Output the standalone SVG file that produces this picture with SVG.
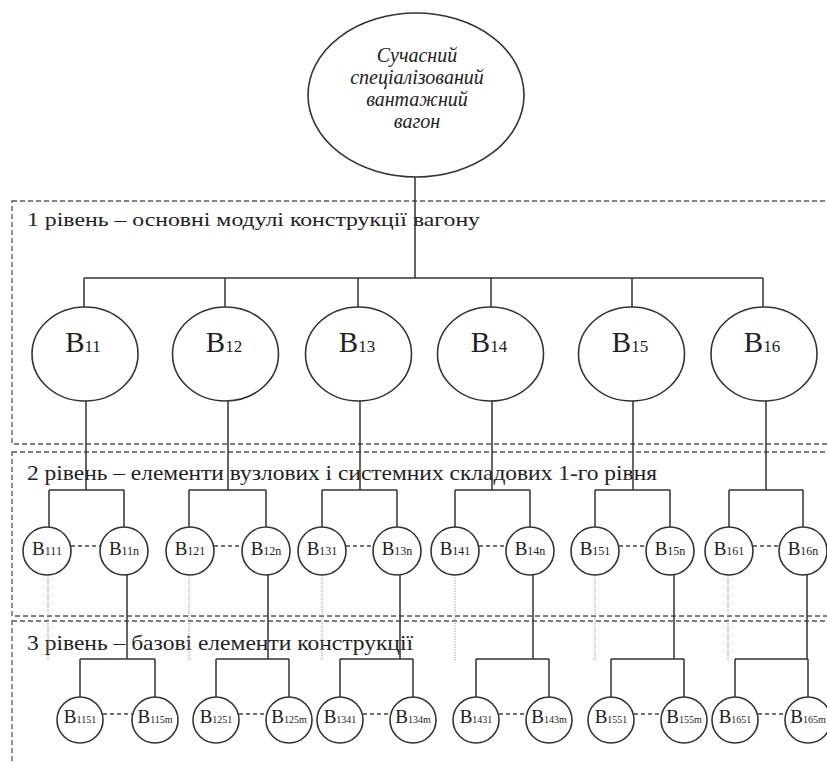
<svg xmlns="http://www.w3.org/2000/svg" width="827" height="762" viewBox="0 0 827 762" font-family="'Liberation Serif', 'Times New Roman', 'DejaVu Serif', serif">
<style>
  .bg{fill:#ffffff}
  .box{fill:none;stroke:#555;stroke-width:1.3;stroke-dasharray:5 3}
  .ln{fill:none;stroke:#333;stroke-width:1.5}
  .dl{fill:none;stroke:#444;stroke-width:1.3;stroke-dasharray:4 3}
  .dot{fill:none;stroke:#999;stroke-width:1;stroke-dasharray:1 1}
  .nd{fill:#fff;stroke:#333;stroke-width:1.6}
  text{font-family:'Liberation Serif','Times New Roman','DejaVu Serif',serif;fill:#222}
  .it{font-style:italic}
  .lv{font-size:21px}
  .b1{font-size:29px}
  .s1{font-size:17px}
  .b2{font-size:19px}
  .s2{font-size:12px}
  .b3{font-size:19px}
  .s3{font-size:10px}
</style>
<rect class="bg" x="0" y="0" width="827" height="762"/>

<g id="levels">
  <rect class="box" x="12" y="201" width="830" height="243"/>
  <rect class="box" x="12" y="452" width="830" height="164"/>
  <rect class="box" x="12" y="621" width="830" height="160"/>
  <text x="27" y="226" font-size="19" textLength="453" lengthAdjust="spacingAndGlyphs">1 рівень –  основні модулі конструкції вагону</text>
  <text class="lv" x="27" y="480" textLength="630" lengthAdjust="spacingAndGlyphs">2 рівень – елементи вузлових і системних складових 1-го рівня</text>
  <text class="lv" x="27" y="650" textLength="386" lengthAdjust="spacingAndGlyphs">3 рівень – базові елементи конструкції</text>
</g>

<g id="connectors">
  <path class="ln" d="M415 177V278M84 278H763M84 278V307M225 278V307M358 278V307M491 278V307M632 278V307M763 278V307"/>
  <path class="ln" d="M86 401V490M49 490H124M49 490V527M124 490V527"/>
  <path class="ln" d="M228 401V490M189 490H266M189 490V527M266 490V527"/>
  <path class="ln" d="M360 401V490M322 490H397M322 490V527M397 490V527"/>
  <path class="ln" d="M492 401V490M455 490H530M455 490V527M530 490V527"/>
  <path class="ln" d="M633 401V490M595 490H670M595 490V527M670 490V527"/>
  <path class="ln" d="M766 401V490M729 490H803M729 490V527M803 490V527"/>
  <path class="dl" d="M71 546H100M214 546H242M346 546H373M479 546H506M619 546H646M753 546H779"/>
  <path class="dot" d="M48 575V660M189 575V660M322 575V660M455 575V660M595 575V660M728 575V660"/>
  <path class="ln" d="M127 575V659M80 659H155M80 659V697M155 659V697"/>
  <path class="ln" d="M268 575V659M216 659H289M216 659V697M289 659V697"/>
  <path class="ln" d="M400 575V659M340 659H413M340 659V697M413 659V697"/>
  <path class="ln" d="M533 575V659M476 659H549M476 659V697M549 659V697"/>
  <path class="ln" d="M674 575V659M611 659H684M611 659V697M684 659V697"/>
  <path class="ln" d="M807 575V659M735 659H808M735 659V697M808 659V697"/>
  <path class="dl" d="M103 714H132M239 714H266M363 714H390M499 714H526M634 714H661M758 714H785"/>
</g>

<g id="root">
  <ellipse class="nd" cx="416" cy="95" rx="108" ry="82"/>
  <text class="it" font-size="20" text-anchor="middle"><tspan x="417" y="62">Сучасний</tspan><tspan x="417" y="84">спеціалізований</tspan><tspan x="417" y="106">вантажний</tspan><tspan x="417" y="128">вагон</tspan></text>
</g>

<g id="B11"><ellipse class="nd" cx="85" cy="354" rx="53" ry="47"/><text class="b1" x="83" y="352" text-anchor="middle">B<tspan class="s1">11</tspan></text></g>
<g id="B12"><ellipse class="nd" cx="225.5" cy="354" rx="53" ry="47"/><text class="b1" x="224" y="352" text-anchor="middle">B<tspan class="s1">12</tspan></text></g>
<g id="B13"><ellipse class="nd" cx="358.5" cy="354" rx="53" ry="47"/><text class="b1" x="357" y="352" text-anchor="middle">B<tspan class="s1">13</tspan></text></g>
<g id="B14"><ellipse class="nd" cx="490.5" cy="354" rx="53" ry="47"/><text class="b1" x="489" y="352" text-anchor="middle">B<tspan class="s1">14</tspan></text></g>
<g id="B15"><ellipse class="nd" cx="631.5" cy="354" rx="53" ry="47"/><text class="b1" x="630" y="352" text-anchor="middle">B<tspan class="s1">15</tspan></text></g>
<g id="B16"><ellipse class="nd" cx="764" cy="354" rx="53" ry="47"/><text class="b1" x="762" y="352" text-anchor="middle">B<tspan class="s1">16</tspan></text></g>

<g id="B111"><circle class="nd" cx="47" cy="551" r="24"/><text class="b2" x="47" y="555" text-anchor="middle">B<tspan class="s2">111</tspan></text></g>
<g id="B11n"><circle class="nd" cx="124" cy="551" r="24"/><text class="b2" x="124" y="555" text-anchor="middle">B<tspan class="s2">11n</tspan></text></g>
<g id="B121"><circle class="nd" cx="190" cy="551" r="24"/><text class="b2" x="190" y="555" text-anchor="middle">B<tspan class="s2">121</tspan></text></g>
<g id="B12n"><circle class="nd" cx="266" cy="551" r="24"/><text class="b2" x="266" y="555" text-anchor="middle">B<tspan class="s2">12n</tspan></text></g>
<g id="B131"><circle class="nd" cx="322" cy="551" r="24"/><text class="b2" x="322" y="555" text-anchor="middle">B<tspan class="s2">131</tspan></text></g>
<g id="B13n"><circle class="nd" cx="397" cy="551" r="24"/><text class="b2" x="397" y="555" text-anchor="middle">B<tspan class="s2">13n</tspan></text></g>
<g id="B141"><circle class="nd" cx="455" cy="551" r="24"/><text class="b2" x="455" y="555" text-anchor="middle">B<tspan class="s2">141</tspan></text></g>
<g id="B14n"><circle class="nd" cx="530" cy="551" r="24"/><text class="b2" x="530" y="555" text-anchor="middle">B<tspan class="s2">14n</tspan></text></g>
<g id="B151"><circle class="nd" cx="595" cy="551" r="24"/><text class="b2" x="595" y="555" text-anchor="middle">B<tspan class="s2">151</tspan></text></g>
<g id="B15n"><circle class="nd" cx="670" cy="551" r="24"/><text class="b2" x="670" y="555" text-anchor="middle">B<tspan class="s2">15n</tspan></text></g>
<g id="B161"><circle class="nd" cx="729" cy="551" r="24"/><text class="b2" x="729" y="555" text-anchor="middle">B<tspan class="s2">161</tspan></text></g>
<g id="B16n"><circle class="nd" cx="803" cy="551" r="24"/><text class="b2" x="803" y="555" text-anchor="middle">B<tspan class="s2">16n</tspan></text></g>

<g id="B1151"><circle class="nd" cx="80" cy="720" r="23"/><text class="b3" x="80" y="723" text-anchor="middle">B<tspan class="s3">1151</tspan></text></g>
<g id="B115m"><circle class="nd" cx="155" cy="720" r="23"/><text class="b3" x="155" y="723" text-anchor="middle">B<tspan class="s3">115m</tspan></text></g>
<g id="B1251"><circle class="nd" cx="216" cy="720" r="23"/><text class="b3" x="216" y="723" text-anchor="middle">B<tspan class="s3">1251</tspan></text></g>
<g id="B125m"><circle class="nd" cx="289" cy="720" r="23"/><text class="b3" x="289" y="723" text-anchor="middle">B<tspan class="s3">125m</tspan></text></g>
<g id="B1341"><circle class="nd" cx="340" cy="720" r="23"/><text class="b3" x="340" y="723" text-anchor="middle">B<tspan class="s3">1341</tspan></text></g>
<g id="B134m"><circle class="nd" cx="413" cy="720" r="23"/><text class="b3" x="413" y="723" text-anchor="middle">B<tspan class="s3">134m</tspan></text></g>
<g id="B1431"><circle class="nd" cx="476" cy="720" r="23"/><text class="b3" x="476" y="723" text-anchor="middle">B<tspan class="s3">1431</tspan></text></g>
<g id="B143m"><circle class="nd" cx="549" cy="720" r="23"/><text class="b3" x="549" y="723" text-anchor="middle">B<tspan class="s3">143m</tspan></text></g>
<g id="B1551"><circle class="nd" cx="611" cy="720" r="23"/><text class="b3" x="611" y="723" text-anchor="middle">B<tspan class="s3">1551</tspan></text></g>
<g id="B155m"><circle class="nd" cx="684" cy="720" r="23"/><text class="b3" x="684" y="723" text-anchor="middle">B<tspan class="s3">155m</tspan></text></g>
<g id="B1651"><circle class="nd" cx="735" cy="720" r="23"/><text class="b3" x="735" y="723" text-anchor="middle">B<tspan class="s3">1651</tspan></text></g>
<g id="B165m"><circle class="nd" cx="808" cy="720" r="23"/><text class="b3" x="808" y="723" text-anchor="middle">B<tspan class="s3">165m</tspan></text></g>
</svg>
